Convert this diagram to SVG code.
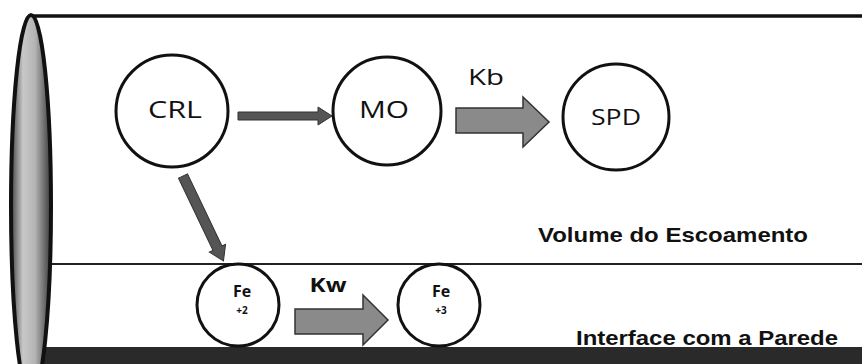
<svg xmlns="http://www.w3.org/2000/svg" width="862" height="364" viewBox="0 0 862 364">
  <defs>
    <style>
      .node { fill: #ffffff; stroke: #111111; stroke-width: 3; }
      .lbl { font-family: "Open Sans", "Liberation Sans", sans-serif; fill: #111111; text-anchor: middle; }
      .bold { font-family: "Liberation Sans", "Open Sans", sans-serif; font-weight: bold; fill: #111111; }
      .arrow { fill: #8a8a8a; stroke: #333333; stroke-width: 1.5; stroke-linejoin: miter; }
      .arrowDark { fill: #555555; stroke: #333333; stroke-width: 1; }
    </style>
    <linearGradient id="cyl" x1="0" x2="1" y1="0" y2="0">
      <stop offset="0" stop-color="#444444"/>
      <stop offset="0.3" stop-color="#c8c8c8"/>
      <stop offset="0.6" stop-color="#b4b4b4"/>
      <stop offset="1" stop-color="#3a3a3a"/>
    </linearGradient>
  </defs>

  <rect width="862" height="364" fill="#ffffff"/>

  <g id="pipe">
    <line x1="30" y1="16" x2="862" y2="16" stroke="#111111" stroke-width="3.5"/>
    <line x1="50" y1="264" x2="862" y2="264" stroke="#222222" stroke-width="2"/>
    <rect x="30" y="347" width="832" height="17" fill="#2a2a2a"/>
    <ellipse cx="31" cy="206" rx="20" ry="191" fill="url(#cyl)" stroke="#111111" stroke-width="4"/>
  </g>

  <g id="connectors">
    <polygon class="arrowDark" points="238,112 318,112 318,107 332,116 318,125 318,120 238,120"/>
    <polygon class="arrow" points="456,108 523,108 523,97 549,122 523,147 523,133 456,133"/>
    <polygon class="arrow" points="295,309 363,309 363,295 388,320 363,345 363,334 295,334"/>
    <g transform="translate(183,176) rotate(64.5)">
      <polygon class="arrowDark" points="0,-5 80,-5 80,-9 94,0 80,9 80,5 0,5"/>
    </g>
    <text class="lbl" x="486" y="85" font-size="22" textLength="36" lengthAdjust="spacingAndGlyphs">Kb</text>
    <text class="lbl" x="328" y="292" font-size="19" font-weight="bold" textLength="37" lengthAdjust="spacingAndGlyphs">Kw</text>
  </g>

  <g id="CRL">
    <circle class="node" cx="172" cy="111" r="56"/>
    <text class="lbl" x="175" y="118" font-size="24" textLength="54" lengthAdjust="spacingAndGlyphs">CRL</text>
  </g>

  <g id="MO">
    <circle class="node" cx="387" cy="111" r="54"/>
    <text class="lbl" x="384" y="118" font-size="24" textLength="50" lengthAdjust="spacingAndGlyphs">MO</text>
  </g>

  <g id="SPD">
    <circle class="node" cx="616" cy="117" r="53"/>
    <text class="lbl" x="616" y="125" font-size="22" textLength="50" lengthAdjust="spacingAndGlyphs">SPD</text>
  </g>

  <g id="Fe2">
    <circle class="node" cx="238" cy="305" r="41"/>
    <text class="lbl" x="242" y="297" font-size="16" font-weight="bold">Fe</text>
    <text class="lbl" x="242" y="314" font-size="10" font-weight="bold">+2</text>
  </g>

  <g id="Fe3">
    <circle class="node" cx="439" cy="305" r="41"/>
    <text class="lbl" x="441" y="297" font-size="16" font-weight="bold">Fe</text>
    <text class="lbl" x="441" y="314" font-size="10" font-weight="bold">+3</text>
  </g>

  <g id="labels">
    <text class="bold" x="538" y="242" font-size="21" textLength="270" lengthAdjust="spacingAndGlyphs">Volume do Escoamento</text>
    <text class="bold" x="576" y="345" font-size="21" textLength="262" lengthAdjust="spacingAndGlyphs">Interface com a Parede</text>
  </g>
</svg>
